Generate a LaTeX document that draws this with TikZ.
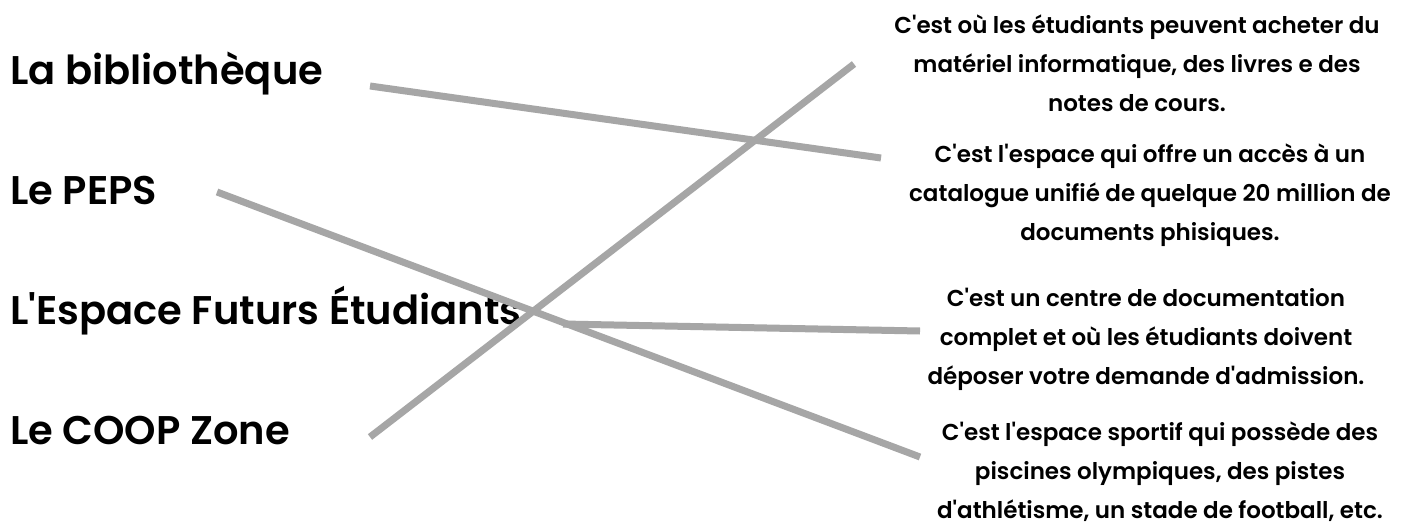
\documentclass[tikz,border=0pt]{standalone}
\usepackage{fontspec}
\setmainfont{Poppins SemiBold}[Ligatures=TeXOff]
\begin{document}
\begin{tikzpicture}[x=1pt,y=-1pt,
  left/.style={anchor=base west,inner sep=0pt,font=\fontsize{40}{48}\selectfont},
  desc/.style={anchor=center,inner sep=0pt,align=center,font=\fontsize{23}{39}\selectfont},
  link/.style={draw=black!35,line width=7pt}]
\useasboundingbox[fill=white] (0,0) rectangle (1420,527);
\node[left] (bib) at (10,84) {La bibliothèque};
\node[left] (peps) at (10,204) {Le PEPS};
\node[left] (efe) at (10,324) {L'Espace Futurs Étudiants};
\node[left] (coop) at (10,444) {Le COOP Zone};
\node[desc] (d1) at (1137,63) {C'est où les étudiants peuvent acheter du\\matériel informatique, des livres e des\\notes de cours.};
\node[desc] (d2) at (1150,195) {C'est l'espace qui offre un accès à un\\catalogue unifié de quelque 20 million de\\documents phisiques.};
\node[desc] (d3) at (1146,339) {C'est un centre de documentation\\complet et où les étudiants doivent\\déposer votre demande d'admission.};
\node[desc] (d4) at (1160,472) {C'est l'espace sportif qui possède des\\piscines olympiques, des pistes\\d'athlétisme, un stade de football, etc.};
\coordinate (bibS) at (370,86);
\coordinate (bibE) at (881,158);
\coordinate (pepsS) at (217,192);
\coordinate (pepsE) at (920,457);
\coordinate (efeS) at (563,324);
\coordinate (efeE) at (920,331);
\coordinate (coopS) at (370,437);
\coordinate (coopE) at (854,64);
\draw[link] (bibS) -- (bibE);
\draw[link] (pepsS) -- (pepsE);
\draw[link] (efeS) -- (efeE);
\draw[link] (coopS) -- (coopE);
\end{tikzpicture}
\end{document}
